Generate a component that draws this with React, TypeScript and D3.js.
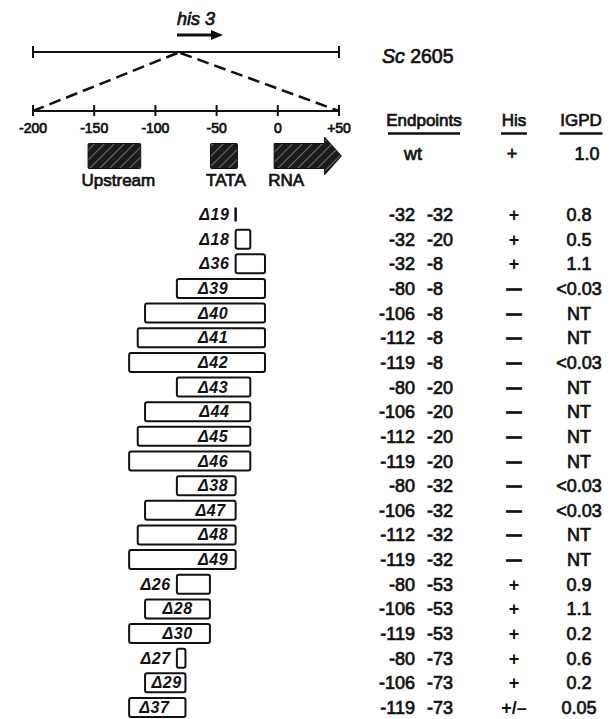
import React from "react";
import * as d3 from "d3";

// Map axis (bp relative to RNA start)
const axisTicks = [-200, -150, -100, -50, 0, 50];
const tickLabels = ["-200", "-150", "-100", "-50", "0", "+50"];

// Promoter features
const featureNames = ["Upstream", "TATA", "RNA"];
const featureStart = [-155, -55, -3];
const featureEnd = [-112, -33, 52];

// Deletions
const deletionIds = ["19", "18", "36", "39", "40", "41", "42", "43", "44", "45", "46", "38", "47", "48", "49", "26", "28", "30", "27", "29", "37"];
const startPts = [-32, -32, -32, -80, -106, -112, -119, -80, -106, -112, -119, -80, -106, -112, -119, -80, -106, -119, -80, -106, -119];
const endPts = [-32, -20, -8, -8, -8, -8, -8, -20, -20, -20, -20, -32, -32, -32, -32, -53, -53, -53, -73, -73, -73];
const hisGrowth = ["+", "+", "+", "–", "–", "–", "–", "–", "–", "–", "–", "–", "–", "–", "–", "+", "+", "+", "+", "+", "+/–"];
const igpdValues = ["0.8", "0.5", "1.1", "<0.03", "NT", "NT", "<0.03", "NT", "NT", "NT", "NT", "<0.03", "<0.03", "NT", "NT", "0.9", "1.1", "0.2", "0.6", "0.2", "0.05"];
// label right end (bp) for labels drawn inside the bar; null = label left of bar
const labelEnd: (number | null)[] = [null, null, null, -38, -38, -38, -38, -38, -37, -38, -38, -38, -40, -38, -38, null, -67, -67, null, -76, -86];

const headers = ["Endpoints", "His", "IGPD"];
const wtRow = ["wt", "+", "1.0"];

const INK = "#111";
const FONT = "'Liberation Sans', Arial, Helvetica, sans-serif";

export default function App() {
  const x = d3.scaleLinear().domain([-200, 50]).range([33, 339]);
  const xb = d3.scaleLinear().domain([-200, 50]).range([30, 336]);
  const y = d3.scalePoint<string>().domain(deletionIds).range([214.5, 707.5]);
  const barH = 19;
  const axisY = 111;
  const topY = 52;
  const apex = -82;
  const featY = 156;

  const thick = { stroke: INK, strokeWidth: 0.7 } as const;

  return (
    <svg width={611} height={719} style={{ position: "absolute", left: 0, top: 0, background: "#fff" }} fontFamily={FONT}>
      <defs>
        <pattern id="hatch" width={7} height={7} patternUnits="userSpaceOnUse" patternTransform="rotate(45)">
          <rect width={7} height={7} fill="#1b1b1b" />
          <line x1={0} y1={0} x2={0} y2={7} stroke="#e8e8e8" strokeWidth={0.8} />
        </pattern>
      </defs>

      {/* his3 label and arrow */}
      <text x={177} y={25} fontSize={18} fontStyle="italic" fill={INK} {...thick}>his 3</text>
      <line x1={177} y1={35} x2={213} y2={35} stroke={INK} strokeWidth={3} />
      <path d={`M211,30 L223,35 L211,40 Z`} fill={INK} />

      {/* top line */}
      <line x1={x(-200)} y1={topY} x2={x(50)} y2={topY} stroke={INK} strokeWidth={2} />
      <line x1={x(-200)} y1={topY - 6} x2={x(-200)} y2={topY + 6} stroke={INK} strokeWidth={2} />
      <line x1={x(50)} y1={topY - 6} x2={x(50)} y2={topY + 6} stroke={INK} strokeWidth={2} />
      <text x={382} y={63} fontSize={19.5} fill={INK} {...thick}>
        <tspan fontStyle="italic">Sc</tspan> 2605
      </text>

      {/* dashed zoom lines */}
      <line x1={x(apex)} y1={topY + 1} x2={x(-200)} y2={axisY} stroke={INK} strokeWidth={2.5} strokeDasharray="12 6" />
      <line x1={x(apex) + 3} y1={topY + 1} x2={x(50)} y2={axisY} stroke={INK} strokeWidth={2.5} strokeDasharray="12 6" />

      {/* axis */}
      <line x1={x(-200)} y1={axisY} x2={x(50)} y2={axisY} stroke={INK} strokeWidth={2} />
      {axisTicks.map((t, i) => (
        <g key={t}>
          <line x1={x(t)} y1={axisY - 6} x2={x(t)} y2={axisY + 5} stroke={INK} strokeWidth={2} />
          <text x={x(t)} y={133} fontSize={14} textAnchor="middle" fill={INK} {...thick}>{tickLabels[i]}</text>
        </g>
      ))}

      {/* features */}
      {featureNames.map((n, i) => {
        const x0 = x(featureStart[i]);
        const x1 = x(featureEnd[i]);
        if (n === "RNA") {
          const bx = x1 - 17;
          const d = `M${x0},${featY - 12.5} L${bx},${featY - 12.5} L${bx},${featY - 19} L${x1},${featY} L${bx},${featY + 19} L${bx},${featY + 12.5} L${x0},${featY + 12.5} Z`;
          return (
            <g key={n}>
              <path d={d} fill="url(#hatch)" stroke={INK} strokeWidth={1} />
              <text x={x0 - 6} y={186} fontSize={17} fill={INK} {...thick}>{n}</text>
            </g>
          );
        }
        return (
          <g key={n}>
            <rect x={x0} y={featY - 12.5} width={x1 - x0} height={25} fill="url(#hatch)" stroke={INK} strokeWidth={1} rx={1} />
            <text x={(x0 + x1) / 2 + (n === "Upstream" ? 4 : 2)} y={186} fontSize={17} textAnchor="middle" fill={INK} {...thick}>{n}</text>
          </g>
        );
      })}

      {/* table headers */}
      {headers.map((h, i) => {
        const cx = [424, 514, 581][i];
        const w = [72, 26, 43][i];
        return (
          <g key={h}>
            <text x={cx} y={126} fontSize={17} textAnchor="middle" fill={INK} {...thick}>{h}</text>
            <line x1={cx - w / 2} y1={133.5} x2={cx + w / 2} y2={133.5} stroke={INK} strokeWidth={2.5} />
          </g>
        );
      })}
      {wtRow.map((t, i) => (
        <text key={i} x={[413, 512, 587][i]} y={160} fontSize={18} textAnchor="middle" fill={INK} {...thick}>{t}</text>
      ))}

      {/* deletion bars */}
      {deletionIds.map((id, i) => {
        const cy = y(id) as number;
        const x0 = xb(startPts[i]);
        const x1 = xb(endPts[i]);
        const le = labelEnd[i];
        const label = `\u0394${id}`;
        const h = hisGrowth[i];
        return (
          <g key={id}>
            {x1 - x0 < 1 ? (
              <line x1={x0} y1={cy - 7} x2={x0} y2={cy + 7} stroke={INK} strokeWidth={2.5} />
            ) : (
              <rect x={x0} y={cy - barH / 2} width={x1 - x0} height={barH} fill="none" stroke={INK} strokeWidth={2} rx={2} />
            )}
            <text
              x={le === null ? x0 - 6 : xb(le)}
              y={cy + 5.5}
              fontSize={16}
              fontStyle="italic"
              fontWeight="bold"
              letterSpacing={0.6}
              textAnchor="end"
              fill={INK}
            >
              {label}
            </text>
            <text x={415} y={cy + 6.5} fontSize={18} textAnchor="end" fill={INK} {...thick}>{startPts[i]}</text>
            <text x={427} y={cy + 6.5} fontSize={18} textAnchor="start" fill={INK} {...thick}>{endPts[i]}</text>
            {h === "–" ? (
              <text x={514} y={cy + 5.5} fontSize={15} textAnchor="middle" fill={INK} fontWeight="bold" stroke={INK} strokeWidth={1}>—</text>
            ) : (
              <text x={514} y={cy + 6.5} fontSize={18} textAnchor="middle" fill={INK} fontWeight="bold">{h}</text>
            )}
            <text x={579} y={cy + 6.5} fontSize={18} textAnchor="middle" fill={INK} {...thick}>{igpdValues[i]}</text>
          </g>
        );
      })}
    </svg>
  );
}
